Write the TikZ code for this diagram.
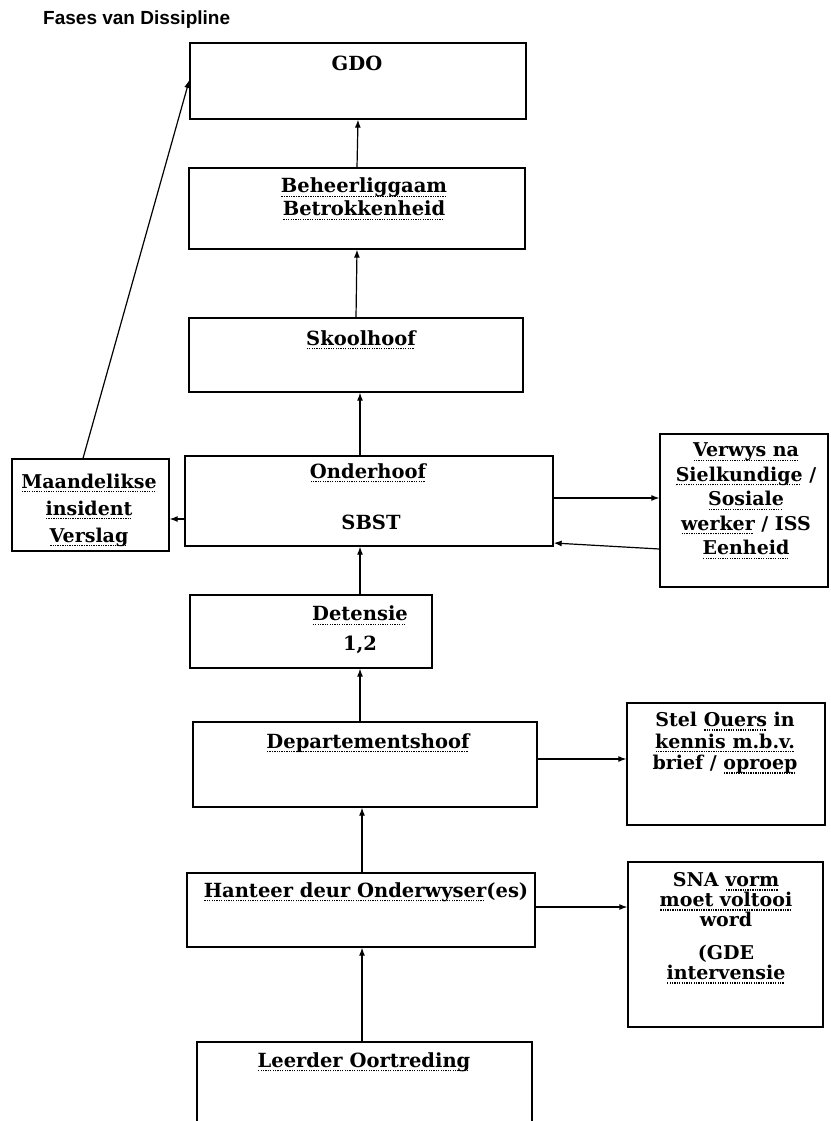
\documentclass[tikz,border=0pt]{standalone}
\usepackage{fontspec}
\setmainfont{DejaVu Serif}
\newfontfamily\titlefont{Liberation Sans}
\usetikzlibrary{arrows.meta}
\newcommand{\wu}[1]{\setbox0=\hbox{#1}\rlap{\hbox to \wd0{\leaders\hbox to 2.4pt{\hss\rule[-4pt]{1.3pt}{1.3pt}\hss}\hfill}}\box0\relax}
\begin{document}
\begin{tikzpicture}[x=1pt,y=-1pt,
  box/.style={draw, line width=1.3pt, inner sep=0pt},
  txt/.style={font=\bfseries\fontsize{19.5}{22}\selectfont, align=center, inner sep=0pt},
  arr/.style={-{Latex[length=8pt,width=6pt]}, line width=1.2pt}]
\useasboundingbox (0,0) rectangle (830,1121);
\clip (0,0) rectangle (830,1121);
\coordinate (spine) at (360,0);
% title
\node[anchor=west, inner sep=0pt, font=\titlefont\bfseries\fontsize{19}{22}\selectfont] (title) at (43,20) {Fases van Dissipline};
% boxes
\node[box, minimum width=336pt, minimum height=76pt] (gdo) at (358,81) {};
\node[box, minimum width=336pt, minimum height=81pt] (beh) at (357,208.5) {};
\node[box, minimum width=334pt, minimum height=74pt] (skool) at (356,355) {};
\node[box, minimum width=368pt, minimum height=90pt] (onder) at (369,501) {};
\node[box, minimum width=157pt, minimum height=92pt] (mil) at (90.5,505) {};
\node[box, minimum width=168pt, minimum height=153pt] (verwys) at (744,510.5) {};
\node[box, minimum width=242pt, minimum height=73pt] (det) at (311,631.5) {};
\node[box, minimum width=344pt, minimum height=85pt] (dept) at (365,764.5) {};
\node[box, minimum width=198pt, minimum height=122pt] (stel) at (726,764) {};
\node[box, minimum width=348pt, minimum height=74pt] (hant) at (361,910) {};
\node[box, minimum width=195pt, minimum height=165pt] (sna) at (725.5,944.5) {};
\node[box, minimum width=335pt, minimum height=118pt] (leer) at (364.5,1101) {};
% texts
\node[txt] (tgdo) at (357,63) {GDO};
\node[txt, font=\bfseries\fontsize{19.5}{23}\selectfont] (tbeh) at (364,199) {\wu{Beheerliggaam}\\\wu{Betrokkenheid}};
\node[txt] (tskool) at (361,340) {\wu{Skoolhoof}};
\node[txt] (tonder) at (368,473) {\wu{Onderhoof}};
\node[txt] (tsbst) at (371,522) {SBST};
\node[txt, font=\bfseries\fontsize{19}{27}\selectfont] (tmil) at (89,510) {\wu{Maandelikse}\\\wu{insident}\\\wu{Verslag}};
\node[txt, font=\bfseries\fontsize{19}{24.5}\selectfont] (tverwys) at (746,501) {\wu{Verwys na}\\\wu{Sielkundige} /\\\wu{Sosiale}\\\wu{werker} / ISS\\\wu{Eenheid}};
\node[txt, font=\bfseries\fontsize{19.5}{30}\selectfont] (tdet) at (360,630) {\wu{Detensie}\\1,2};
\node[txt] (tdept) at (368,743) {\wu{Departementshoof}};
\node[txt, font=\bfseries\fontsize{19}{21.5}\selectfont] (tstel) at (725,743) {Stel \wu{Ouers} in\\\wu{kennis m.b.v.}\\brief / \wu{oproep}};
\node[txt] (thant) at (366,892) {\wu{Hanteer deur Onderwyser}(es)};
\node[txt, font=\bfseries\fontsize{19}{20}\selectfont] (tsna) at (726,928) {SNA \wu{vorm}\\\wu{moet voltooi}\\word\\[13pt](GDE\\\wu{intervensie}};
\node[txt] (tleer) at (364,1062) {\wu{Leerder Oortreding}};
% connectors
\draw[arr] (beh.north) -- (gdo.south);
\draw[arr] (skool.north) -- (beh.south);
\draw[arr] (onder.north -| spine) -- (skool.south -| spine);
\draw[arr] (det.north -| spine) -- (onder.south -| spine);
\draw[arr] (dept.north -| spine) -- (det.south -| spine);
\draw[arr] ([xshift=2pt]hant.north -| spine) -- ([xshift=2pt]dept.south -| spine);
\draw[arr] ([xshift=2pt]leer.north -| spine) -- ([xshift=2pt]hant.south -| spine);
\draw[arr] ([yshift=-18pt]onder.west) -- ([yshift=-18pt]onder.west -| mil.east);
\draw[arr] ([xshift=-7.5pt]mil.north) -- ([yshift=1pt]gdo.west);
\draw[arr] ([yshift=3pt]onder.east) -- ([yshift=3pt]onder.east -| verwys.west);
\draw[arr] ([yshift=-38.5pt]verwys.west) -- ([yshift=-42pt]onder.east);
\draw[arr] ([yshift=5.5pt]dept.east) -- ([yshift=5.5pt]dept.east -| stel.west);
\draw[arr] ([yshift=3pt]hant.east) -- ([yshift=3pt]hant.east -| sna.west);
\end{tikzpicture}
\end{document}
